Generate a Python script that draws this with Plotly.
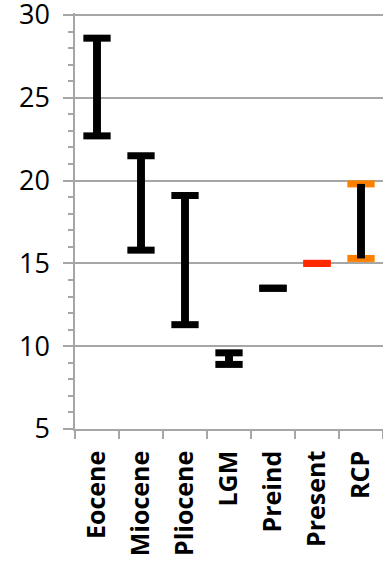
import plotly.graph_objects as go

categories = ["Eocene", "Miocene", "Pliocene", "LGM", "Preind", "Present", "RCP"]
low_values = [22.7, 15.8, 11.3, 8.9, 13.5, 15.0, 15.3]
high_values = [28.6, 21.5, 19.1, 9.6, 13.5, 15.0, 19.8]
cap_colors = ["#000000", "#000000", "#000000", "#000000", "#000000", "#FF2A00", "#FF8000"]

y_min, y_max, y_step, y_minor_step = 5, 30, 5, 1

PX_PER_UNIT = (429 - 15) / 25.0
cap_thick = 7 / PX_PER_UNIT
top_pad = 0.12  # small headroom so the top gridline is not clipped at the edge

stem_heights = [h - l for l, h in zip(low_values, high_values)]

fig = go.Figure()
# stems (on the minor-tick overlay axis, same range)
fig.add_trace(go.Bar(
    x=categories, y=stem_heights, base=low_values, width=0.18, yaxis="y2",
    marker=dict(color="#000000", line=dict(width=0)), hoverinfo="skip",
))
# caps (high and low)
for vals in (high_values, low_values):
    fig.add_trace(go.Bar(
        x=categories, y=[cap_thick] * len(vals),
        base=[v - cap_thick / 2 for v in vals], width=0.62,
        marker=dict(color=cap_colors, line=dict(width=0)), hoverinfo="skip",
    ))

grid = "#A6A6A6"
yrange = [y_min, y_max + top_pad]
top_margin = round(15 - top_pad * PX_PER_UNIT)
fig.update_layout(
    width=383, height=566,
    margin=dict(l=75, r=0, t=top_margin, b=137, autoexpand=False),
    paper_bgcolor="white", plot_bgcolor="white",
    barmode="overlay", showlegend=False,
    font=dict(family="Open Sans", color="#000000"),
    yaxis2=dict(
        overlaying="y", anchor="x", side="left", range=yrange,
        tickmode="linear", tick0=y_min, dtick=y_minor_step,
        ticks="outside", ticklen=6, tickcolor=grid, tickwidth=1.5,
        showticklabels=False, showgrid=False, showline=False, zeroline=False,
        automargin=False,
    ),
)
fig.update_layout(yaxis=dict(
    range=yrange, tickmode="linear", tick0=y_min, dtick=y_step,
    showgrid=True, gridcolor=grid, gridwidth=1.5,
    showline=True, linecolor=grid, linewidth=1.5,
    ticks="outside", ticklen=10, tickcolor=grid, tickwidth=1.5,
    tickfont=dict(size=27, family="Open Sans", color="#000000"),
    ticklabelstandoff=8, ticklabeloverflow="allow", zeroline=False,
    automargin=False,
))
fig.update_xaxes(
    type="category", range=[-0.5, 6.5], tickson="boundaries",
    showgrid=False, showline=True, linecolor=grid, linewidth=1.5,
    ticks="outside", ticklen=8, tickcolor=grid, tickwidth=1.5,
    tickangle=-90,
    tickfont=dict(size=25, family="Open Sans", color="#000000", weight="bold"),
    ticklabelstandoff=10, ticklabeloverflow="allow", automargin=False,
)

fig.write_html(
    "out.html",
    config={"displayModeBar": False},
    post_script="document.body.style.margin='0';document.body.style.overflow='hidden';",
)
